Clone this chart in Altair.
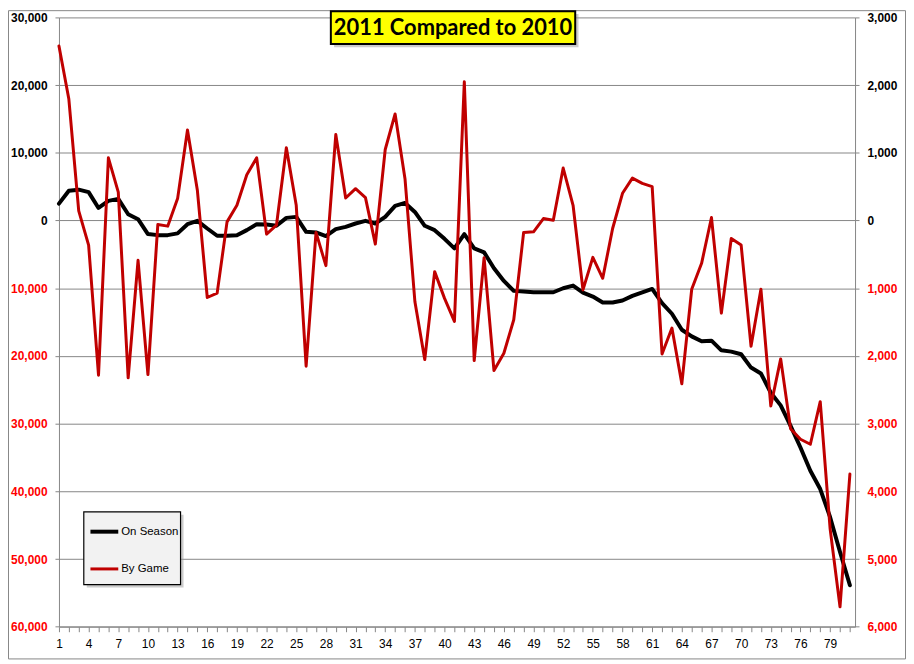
import altair as alt
import pandas as pd

games = list(range(1, 82))
on_season = [2500, 4400, 4560, 4200, 1860, 2900, 3200, 930, 200, -2000,
             -2160, -2160, -1900, -540, -50, -1180, -2250, -2250, -2160, -1420,
             -540, -590, -780, 390, 540, -1670, -1760, -2300, -1270, -930,
             -440, -50, -440, 540, 2160, 2600, 1270, -780, -1420, -2700,
             -4120, -2010, -4120, -4700, -7060, -8920, -10390, -10490, -10590, -10590,
             -10590, -10000, -9610, -10640, -11230, -12110, -12110, -11810, -11130, -10600,
             -10100, -12200, -13770, -16130, -17110, -17840, -17750, -19170, -19360, -19750,
             -21720, -22600, -25440, -27300, -30340, -33530, -36960, -39660, -43820, -48970,
             -53870]
by_game = [2578, 1794, 142, -363, -2284, 926, 420, -2324, -588, -2275,
           -59, -83, 324, 1338, 446, -1137, -1073, -20, 225, 676,
           926, -201, -69, 1074, 225, -2152, -176, -667, 1270, 333,
           470, 338, -348, 1049, 1574, 618, -1196, -2054, -755, -1150,
           -1490, 2049, -2069, -549, -2216, -1961, -1466, -176, -167, 29,
           5, 775, 225, -1025, -544, -853, -118, 402, 627, 549,
           500, -1971, -1588, -2412, -1015, -632, 44, -1368, -265, -363,
           -1858, -1015, -2740, -2044, -3074, -3230, -3304, -2676, -4554, -5706,
           -3745]
series_names = ["On Season", "By Game"]
series_colors = ["#000000", "#c00000"]
series_widths = [4, 3]
left_ticks = list(range(-60000, 30001, 10000))
right_ticks = list(range(-6000, 3001, 1000))
title_text = "2011 Compared to 2010"

df = pd.DataFrame({"game": games, "season": on_season, "bygame": by_game})
one = pd.DataFrame({"k": [0]})

GRID = "#868686"
W, H = 801.4, 613.4
PAD = {"left": 51.3, "top": 7.3, "right": 51.3, "bottom": 33}

x_enc = alt.X(
    "game:Q",
    scale=alt.Scale(domain=[1, 81.52], nice=False, zero=False),
    axis=alt.Axis(values=games,
                  labelExpr="(datum.value - 1) % 3 == 0 ? datum.label : ''",
                  grid=False, tickSize=5, tickColor=GRID, domainColor=GRID,
                  labelFont="Liberation Sans", labelFontSize=12, labelColor="#000000",
                  labelPadding=7, labelFlush=False, labelOverlap=False, title=None),
)

neg_color = {"condition": {"test": "datum.value < 0", "value": "#ff0000"}, "value": "#000000"}

left_axis = alt.Axis(values=left_ticks, orient="left",
                     labelExpr="format(abs(datum.value), ',')", labelColor=neg_color,
                     grid=True, gridColor=GRID, gridWidth=1, domainColor=GRID,
                     tickColor=GRID, tickSize=4, labelFont="Liberation Sans",
                     labelFontWeight="bold", labelFontSize=12, labelPadding=8, title=None)
right_axis = alt.Axis(values=right_ticks, orient="right",
                      labelExpr="format(abs(datum.value), ',')", labelColor=neg_color,
                      grid=False, domainColor=GRID,
                      tickColor=GRID, tickSize=4, labelFont="Liberation Sans",
                      labelFontWeight="bold", labelFontSize=12, labelPadding=8, title=None)

legend = alt.Legend(title=None, orient="none", legendX=29.7, legendY=501.7, padding=0,
                    labelFont="Liberation Sans", labelFontSize=11.5, labelColor="#000000",
                    labelOffset=1, rowPadding=14, symbolType="stroke", symbolSize=784)
color_enc = alt.Color("series:N", scale=alt.Scale(domain=series_names, range=series_colors), legend=legend)
sw_enc = alt.StrokeWidth("series:N", scale=alt.Scale(domain=series_names, range=series_widths), legend=legend)

black = alt.Chart(df).transform_calculate(series=f"'{series_names[0]}'").mark_line(
    strokeJoin="round", strokeCap="round").encode(
    x=x_enc,
    y=alt.Y("season:Q", scale=alt.Scale(domain=[-60000, 30000], nice=False, zero=False), axis=left_axis),
    color=color_enc, strokeWidth=sw_enc)

red = alt.Chart(df).transform_calculate(series=f"'{series_names[1]}'").mark_line(
    strokeJoin="round", strokeCap="round").encode(
    x=x_enc,
    y=alt.Y("bygame:Q", scale=alt.Scale(domain=[-6000, 3000], nice=False, zero=False), axis=right_axis),
    color=color_enc, strokeWidth=sw_enc)

border = alt.Chart(one).mark_rect(fill=None, stroke=GRID, strokeWidth=1).encode(
    x=alt.value(-50.8), x2=alt.value(852.2), y=alt.value(-6.8), y2=alt.value(645.8))

leg_shadow = alt.Chart(one).mark_rect(fill="#9a9a9a", opacity=0.5).encode(
    x=alt.value(28), x2=alt.value(125.4), y=alt.value(500.7), y2=alt.value(574))
leg_box = alt.Chart(one).mark_rect(fill="#f2f2f2", stroke="#000000", strokeWidth=1.2).encode(
    x=alt.value(25), x2=alt.value(122.4), y=alt.value(497.7), y2=alt.value(571))

title_shadow = alt.Chart(one).mark_rect(fill="#9a9a9a", opacity=0.5).encode(
    x=alt.value(277), x2=alt.value(523), y=alt.value(-3.5), y2=alt.value(30))
title_box = alt.Chart(one).mark_rect(fill="#ffff00", stroke="#000000", strokeWidth=2).encode(
    x=alt.value(273.7), x2=alt.value(519.7), y=alt.value(-6.3), y2=alt.value(26.7))
title_txt = alt.Chart(one).mark_text(font="Lato", fontSize=22, fontWeight="bold",
                                      color="#000000", align="center", baseline="middle").encode(
    x=alt.value(396.7), y=alt.value(10.5), text=alt.value(title_text))

chart = alt.layer(border, leg_shadow, leg_box, title_shadow, title_box, title_txt, black, red).resolve_scale(
    y="independent").properties(
    width=W, height=H, padding=PAD, autosize=alt.AutoSizeParams(type="none"),
    background="#ffffff").configure_view(stroke=None)

chart.save("out.html", embed_options={"renderer": "svg", "actions": False})
